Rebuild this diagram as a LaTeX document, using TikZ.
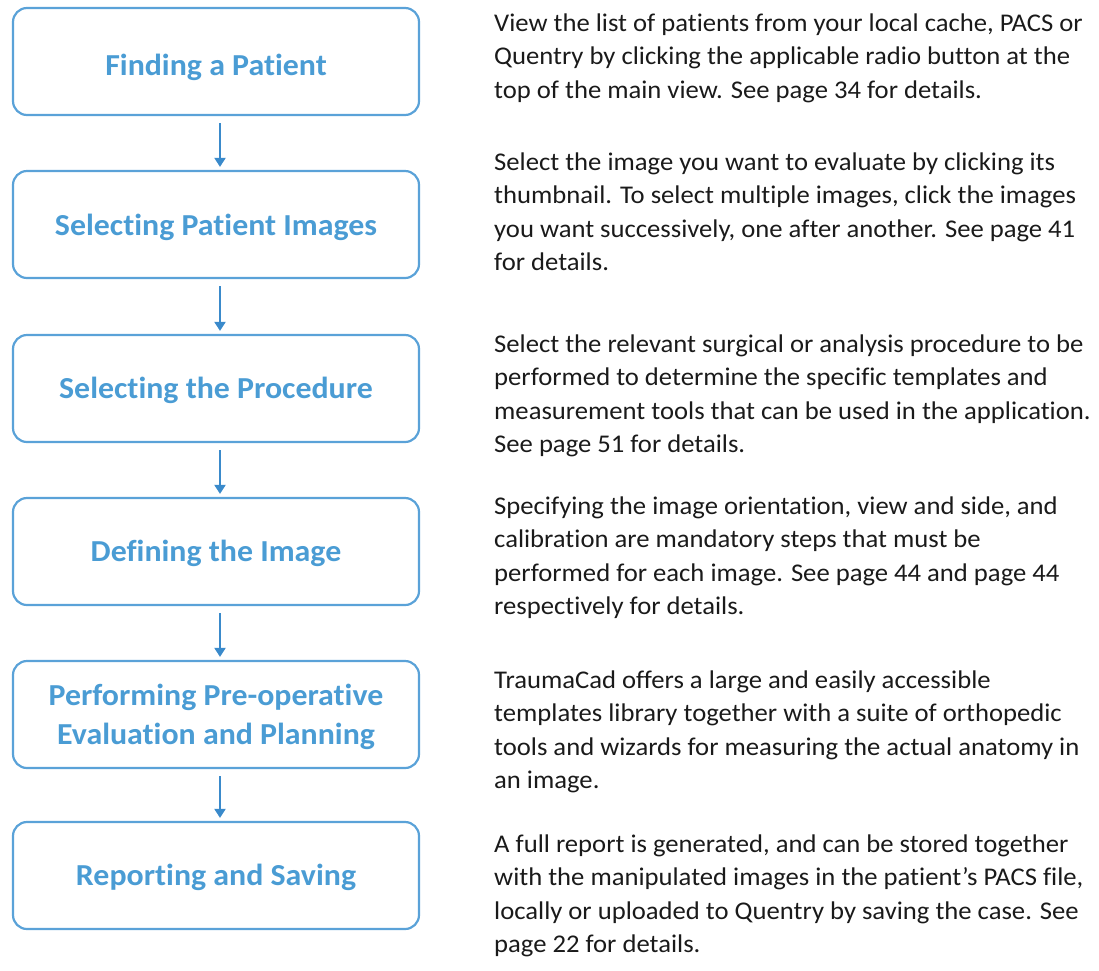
\documentclass[tikz,border=0pt]{standalone}
\usepackage{fontspec}
\setmainfont{Carlito}[FakeStretch=1.045, Ligatures=NoCommon]
\usetikzlibrary{arrows.meta}
\definecolor{boxline}{HTML}{5AA2D8}
\definecolor{titleblue}{HTML}{4A9CD4}
\definecolor{arrowblue}{HTML}{3A8ACB}
\definecolor{bodytext}{HTML}{1A1A1A}
\tikzset{
  stepbox/.style={draw=boxline, line width=2.2pt, rounded corners=14pt,
    minimum width=406pt, minimum height=107pt, inner sep=0pt},
  title/.style={text=titleblue, font=\fontsize{30.5}{39}\selectfont\bfseries,
    align=center, anchor=base, inner sep=0pt},
  flow/.style={draw=arrowblue, line width=2pt,
    -{Triangle[length=9pt,width=11pt]}, shorten <=7pt, shorten >=3pt},
  body/.style={text=bodytext, font=\fontsize{25.5}{33.5}\selectfont,
    align=left, anchor=base west, inner sep=0pt}
}
\begin{document}
\begin{tikzpicture}[x=1pt,y=-1pt]
\useasboundingbox (0,0) rectangle (1099,970);
% process steps
\node[stepbox] (b1) at (216,61.5) {};
\node[stepbox] (b2) at (216,224.5) {};
\node[stepbox] (b3) at (216,388.5) {};
\node[stepbox] (b4) at (216,551.5) {};
\node[stepbox] (b5) at (216,714.5) {};
\node[stepbox] (b6) at (216,875.5) {};
% step titles (anchored on the baseline of their last line)
\node[title] (t1) at (216,75) {Finding a Patient};
\node[title] (t2) at (216,235) {Selecting Patient Images};
\node[title] (t3) at (216,398) {Selecting the Procedure};
\node[title] (t4) at (216,561) {Defining the Image};
\node[title] (t5) at (216,744) {Performing Pre-operative\\Evaluation and Planning};
\node[title] (t6) at (216,885) {Reporting and Saving};
% connectors
\draw[flow] ([xshift=4pt]b1.south) -- ([xshift=4pt]b2.north);
\draw[flow] ([xshift=4pt]b2.south) -- ([xshift=4pt]b3.north);
\draw[flow] ([xshift=4pt]b3.south) -- ([xshift=4pt]b4.north);
\draw[flow] ([xshift=4pt]b4.south) -- ([xshift=4pt]b5.north);
\draw[flow] ([xshift=4pt]b5.south) -- ([xshift=4pt]b6.north);
% descriptions (anchored on the baseline of their last line)
\node[body] (d1) at (494,98) {View the list of patients from your local cache, PACS or\\Quentry by clicking the applicable radio button at the\\top of the main view. See page 34 for details.};
\node[body] (d2) at (494,270.5) {Select the image you want to evaluate by clicking its\\thumbnail. To select multiple images, click the images\\you want successively, one after another. See page 41\\for details.};
\node[body] (d3) at (494,452.5) {Select the relevant surgical or analysis procedure to be\\performed to determine the specific templates and\\measurement tools that can be used in the application.\\See page 51 for details.};
\node[body] (d4) at (494,614.5) {Specifying the image orientation, view and side, and\\calibration are mandatory steps that must be\\performed for each image. See page 44 and page 44\\respectively for details.};
\node[body] (d5) at (494,788.5) {TraumaCad offers a large and easily accessible\\templates library together with a suite of orthopedic\\tools and wizards for measuring the actual anatomy in\\an image.};
\node[body] (d6) at (494,952.5) {A full report is generated, and can be stored together\\with the manipulated images in the patient’s PACS file,\\locally or uploaded to Quentry by saving the case. See\\page 22 for details.};
\end{tikzpicture}
\end{document}
